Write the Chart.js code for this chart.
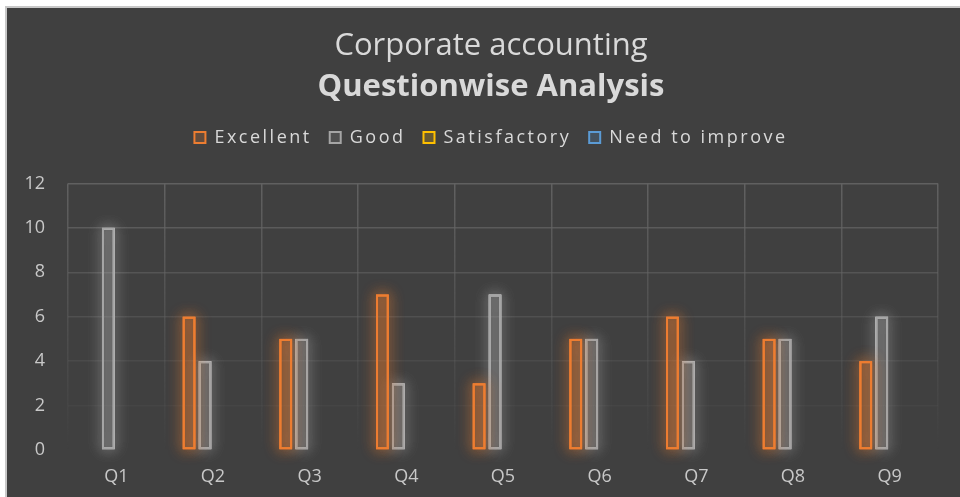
<!DOCTYPE html>
<html>
<head>
<meta charset="utf-8">
<script src="https://cdn.jsdelivr.net/npm/chart.js@4.4.1/dist/chart.umd.min.js"></script>
<style>
  html, body { margin: 0; padding: 0; background: #fff; }
  #wrap {
    position: absolute; left: 5px; top: 6px;
    width: 953px; height: 489px;
    border-left: 2px solid #c8c8c8; border-top: 2px solid #c8c8c8;
    background: #404040;
  }
</style>
</head>
<body>
<div id="wrap"><canvas id="chart" width="953" height="489"></canvas></div>
<script>
// data
var questions = ["Q1", "Q2", "Q3", "Q4", "Q5", "Q6", "Q7", "Q8", "Q9"];
var excellent = [0, 6, 5, 7, 3, 5, 6, 5, 4];
var good = [10, 4, 5, 3, 7, 5, 4, 5, 6];
var satisfactory = [0, 0, 0, 0, 0, 0, 0, 0, 0];
var needToImprove = [0, 0, 0, 0, 0, 0, 0, 0, 0];
var yTicks = [0, 2, 4, 6, 8, 10, 12];

var seriesColors = ["#ED7D31", "#A5A5A5", "#FFC000", "#5B9BD5"];
var glowColors = ["rgba(237,125,49,0.95)", "rgba(205,205,205,0.8)", "rgba(255,192,0,0.95)", "rgba(91,155,213,0.95)"];
var fillColors = ["rgba(237,125,49,0.2)", "rgba(165,165,165,0.16)", "rgba(255,192,0,0.2)", "rgba(91,155,213,0.2)"];

function makeSet(label, data, i)
{
        return {
                label: label,
                data: data,
                backgroundColor: fillColors[i],
                borderColor: seriesColors[i],
                borderWidth: 2,
                borderSkipped: false,
                categoryPercentage: 0.66,
                barPercentage: 0.8
        };
}

// soft glow round each bar (bar border is clipped, so stroke a halo underneath)
var glow = {
        id: "glow",
        beforeDatasetDraw: function(chart, args)
        {
                var ctx = chart.ctx;
                var bars = args.meta.data;
                ctx.save();
                ctx.shadowColor = glowColors[args.index];
                ctx.shadowBlur = 14;
                ctx.strokeStyle = glowColors[args.index];
                ctx.lineWidth = 2;
                for (var pass = 0; pass < 2; pass++)
                {
                        for (var i = 0; i < bars.length; i++)
                        {
                                var p = bars[i].getProps(["x", "y", "base", "width"], true);
                                var h = p.base - p.y;
                                if (h <= 0) continue;
                                ctx.strokeRect(p.x - p.width / 2 + 1, p.y + 1, p.width - 2, h - 2);
                        }
                }
                ctx.restore();
        }
};

// the legend text is spaced out wide in the picture, and sits well above the plot
var spacedLegend = {
        id: "spacedLegend",
        afterInit: function(chart)
        {
                var lg = chart.legend;
                if (!lg) return;
                var fit = lg.fit, draw = lg.draw;
                lg.fit = function()
                {
                        chart.ctx.letterSpacing = "2.5px";
                        fit.apply(lg, arguments);
                        chart.ctx.letterSpacing = "0px";
                        lg.height += 27;
                };
                lg.draw = function()
                {
                        chart.ctx.letterSpacing = "2.5px";
                        draw.apply(lg, arguments);
                        chart.ctx.letterSpacing = "0px";
                };
        }
};

function fadeGrid(context)
{
        var area = context.chart.chartArea;
        if (!area) return "#585858";
        var g = context.chart.ctx.createLinearGradient(0, area.top, 0, area.bottom);
        g.addColorStop(0, "rgba(100,100,100,0.9)");
        g.addColorStop(1, "rgba(100,100,100,0)");
        return g;
}

new Chart(document.getElementById("chart").getContext("2d"), {
        type: "bar",
        data: {
                labels: questions,
                datasets: [
                        makeSet("Excellent", excellent, 0),
                        makeSet("Good", good, 1),
                        makeSet("Satisfactory", satisfactory, 2),
                        makeSet("Need to improve", needToImprove, 3)
                ]
        },
        plugins: [glow, spacedLegend],
        options: {
                responsive: false,
                animation: false,
                layout: { padding: { left: 17, right: 2, top: 20, bottom: 11 } },
                plugins: {
                        title: {
                                display: true,
                                text: "Corporate accounting",
                                color: "#d9d9d9",
                                font: { family: "Open Sans", size: 31, weight: "normal" },
                                padding: { top: 0, bottom: 3 }
                        },
                        subtitle: {
                                display: true,
                                text: "Questionwise Analysis",
                                color: "#d9d9d9",
                                font: { family: "Open Sans", size: 31, weight: "bold" },
                                padding: { top: 0, bottom: 5 }
                        },
                        legend: {
                                position: "top",
                                labels: {
                                        color: "#d9d9d9",
                                        font: { family: "Open Sans", size: 18 },
                                        boxWidth: 11,
                                        boxHeight: 11,
                                        padding: 18
                                }
                        },
                        tooltip: { enabled: false }
                },
                scales: {
                        x: {
                                afterFit: function(axis)
                                {
                                        axis.height = 36;
                                },
                                grid: { color: fadeGrid, drawTicks: false, lineWidth: 1.5 },
                                border: { display: false },
                                ticks: { color: "#c8c8c8", font: { family: "Open Sans", size: 18 }, padding: 16 }
                        },
                        y: {
                                min: 0,
                                max: 12,
                                afterBuildTicks: function(axis)
                                {
                                        axis.ticks = yTicks.map(function(v) { return { value: v }; });
                                },
                                afterFit: function(axis)
                                {
                                        axis.width = 44;
                                },
                                grid: {
                                        drawTicks: false,
                                        lineWidth: 1.5,
                                        color: function(c)
                                        {
                                                var a = c.tick ? c.tick.value / 12 : 0;
                                                return "rgba(100,100,100," + (a * 0.9).toFixed(2) + ")";
                                        }
                                },
                                border: { display: false },
                                ticks: { color: "#c8c8c8", font: { family: "Open Sans", size: 18 }, padding: 23 }
                        },
                        // empty right margin so the title and legend sit a little right of centre
                        yRight: {
                                position: "right",
                                min: 0,
                                max: 12,
                                grid: { display: false },
                                border: { display: false },
                                ticks: { display: false },
                                afterFit: function(axis)
                                {
                                        axis.width = 20;
                                }
                        }
                }
        }
});
</script>
</body>
</html>
